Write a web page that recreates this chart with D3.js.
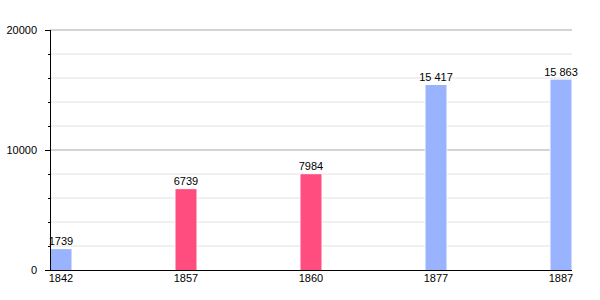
<!DOCTYPE html>
<html>
<head>
<meta charset="utf-8">
<script src="https://cdn.jsdelivr.net/npm/d3@7"></script>
<style>
  body { margin: 0; background: #fff; }
  text { font-family: "Liberation Sans", Arial, sans-serif; font-size: 11px; fill: #000; }
</style>
</head>
<body>
<div id="chart"></div>
<script>
// Data
var years = ["1842", "1857", "1860", "1877", "1887"];
var population = [1739, 6739, 7984, 15417, 15863];
var barColors = ["#99b3ff", "#ff4d7f", "#ff4d7f", "#99b3ff", "#99b3ff"];
var majorTicks = [0, 10000, 20000];
var minorTicks = [2000, 4000, 6000, 8000, 12000, 14000, 16000, 18000];

var svgWidth = 600;
var svgHeight = 300;

var svg = d3.select("#chart")
    .append("svg")
    .attr("width", svgWidth)
    .attr("height", svgHeight);

// scales
var x = d3.scaleBand()
    .domain(years)
    .range([50, 675]);

var y = d3.scaleLinear()
    .domain([0, 20000])
    .range([270, 30]);

var plotRight = 572;
var barWidth = 21;

// label format: space as thousands separator from 10000 up
var spaced = d3.formatLocale({ decimal: ",", thousands: "\u00a0", grouping: [3], currency: ["", ""] }).format(",d");
var fmt = function (v) { return v >= 10000 ? spaced(v) : String(v); };

// grid lines
svg.selectAll(".minor")
    .data(minorTicks)
    .enter()
    .append("line")
    .attr("x1", 50).attr("x2", plotRight)
    .attr("y1", d => y(d)).attr("y2", d => y(d))
    .attr("stroke", "#e2e2e2")
    .attr("stroke-width", 1);

svg.selectAll(".major")
    .data(majorTicks.filter(d => d > 0))
    .enter()
    .append("line")
    .attr("x1", 50).attr("x2", plotRight)
    .attr("y1", d => y(d)).attr("y2", d => y(d))
    .attr("stroke", "#a8a8a8")
    .attr("stroke-width", 1);

// bars
svg.selectAll("rect")
    .data(population)
    .enter()
    .append("rect")
    .attr("x", (d, i) => x(years[i]) + 0.5)
    .attr("y", d => y(d))
    .attr("width", barWidth)
    .attr("height", d => y(0) - y(d))
    .attr("fill", (d, i) => barColors[i])
    .attr("stroke", "#fff")
    .attr("stroke-width", 1.5)
    .attr("paint-order", "stroke");

// value labels
svg.selectAll(".val")
    .data(population)
    .enter()
    .append("text")
    .attr("x", (d, i) => x(years[i]) + 0.5 + barWidth / 2)
    .attr("y", d => y(d) - 4)
    .attr("text-anchor", "middle")
    .text(d => fmt(d));

// axes lines
svg.append("line")
    .attr("x1", 50.5).attr("x2", 50.5)
    .attr("y1", 30).attr("y2", 270.5)
    .attr("stroke", "#000");

svg.append("line")
    .attr("x1", 50).attr("x2", plotRight)
    .attr("y1", 270.5).attr("y2", 270.5)
    .attr("stroke", "#000");

// y ticks
svg.selectAll(".majTick")
    .data(majorTicks)
    .enter()
    .append("line")
    .attr("x1", 45).attr("x2", 50)
    .attr("y1", d => Math.round(y(d)) + 0.5).attr("y2", d => Math.round(y(d)) + 0.5)
    .attr("stroke", "#000");

svg.selectAll(".minTick")
    .data(minorTicks)
    .enter()
    .append("line")
    .attr("x1", 48).attr("x2", 51)
    .attr("y1", d => Math.round(y(d)) + 0.5).attr("y2", d => Math.round(y(d)) + 0.5)
    .attr("stroke", "#000");

svg.selectAll(".ylab")
    .data(majorTicks)
    .enter()
    .append("text")
    .attr("x", 37)
    .attr("y", d => y(d) + 4)
    .attr("text-anchor", "end")
    .text(d => d);

// x labels
svg.selectAll(".xlab")
    .data(years)
    .enter()
    .append("text")
    .attr("x", d => x(d) + 0.5 + barWidth / 2)
    .attr("y", 282)
    .attr("text-anchor", "middle")
    .text(d => d);
</script>
</body>
</html>
